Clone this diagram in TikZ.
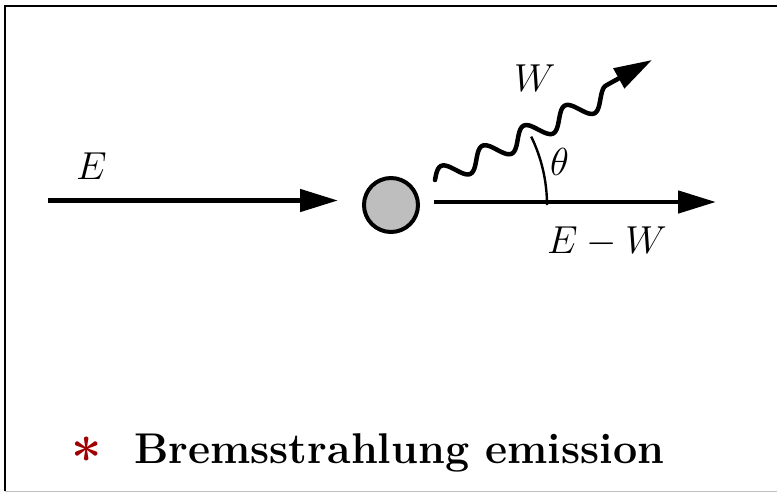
\RequirePackage{fix-cm}
\documentclass[tikz,border=0pt]{standalone}
\usepackage{fontspec}
\usetikzlibrary{arrows.meta}
\definecolor{starred}{RGB}{160,0,0}
\definecolor{nucgray}{RGB}{190,190,190}
\definecolor{framegray}{RGB}{190,190,190}
\tikzset{
  lbl/.style={inner sep=0pt, anchor=base west, font=\fontsize{39}{41}\selectfont},
  ray/.style={line width=4.8pt, -{Triangle[length=38pt,width=22pt]}},
  photon/.style={line width=4.5pt, line join=round, line cap=round,
    -{Triangle[length=38pt,width=22pt]}},
  nucleus/.style={circle, draw, line width=4pt, fill=nucgray, minimum size=54pt, inner sep=0pt},
}
\begin{document}
\begin{tikzpicture}[x=1pt,y=-1pt]
\useasboundingbox (0,0) rectangle (777,493);
% frame
\draw[line width=2.5pt] (777,6) -- (5,6) -- (5,491);
\draw[line width=1pt, framegray] (5,491) -- (777,491);
% nucleus
\node[nucleus] (nuc) at (391,205) {};
% incoming
\coordinate (inL) at (48,200.5);
\coordinate (inR) at (338,200.5);
\draw[ray] (inL) -- (inR);
\node[lbl] (lE) at (76,179) {$E$};
% outgoing
\coordinate (outL) at (434,202);
\coordinate (outR) at (716,202);
\draw[ray] (outL) -- (outR);
\node[lbl] (lEW) at (547,253) {$E-W$};
% photon
\coordinate (wS) at (435,180);
\coordinate (wE) at (652,60);
\draw[photon] [shift={(wS)}, rotate=26]
  plot[domain=0:195.5, samples=120, smooth] (\x, {-10*sin(7.8261*\x)}) -- (wE);
\node[lbl] (lW) at (514,91) {$W$};
% angle
\draw[line width=2.4pt] (nuc.center) ++(156,0) arc (0:-26:156);
\node[lbl] (lT) at (550,175) {$\theta$};
% caption
\node[inner sep=0pt, anchor=base, text=starred, font=\fontsize{54}{56}\selectfont\bfseries] (star) at (87,477) {*};
\node[inner sep=0pt, anchor=base west, font=\fontsize{43}{46}\selectfont\bfseries] (cap) at (134,463) {Bremsstrahlung emission};
\end{tikzpicture}
\end{document}
